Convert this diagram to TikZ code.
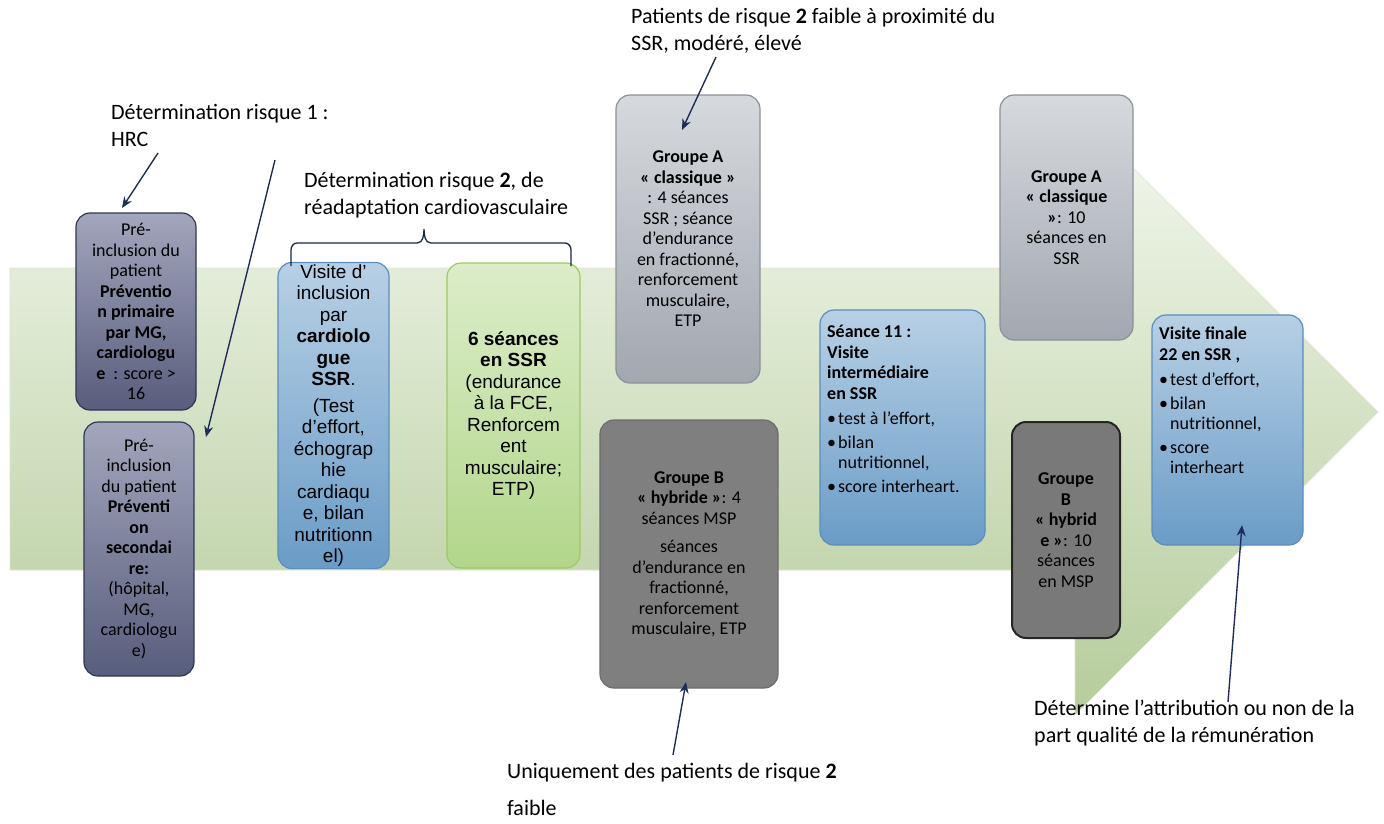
\documentclass[tikz,border=0pt]{standalone}
\usepackage{fontspec}
\setmainfont{Carlito}
\newfontfamily\arialfont{Liberation Sans}
\usetikzlibrary{arrows.meta,positioning}

\definecolor{navy}{HTML}{1F2D5C}
\definecolor{arrowtop}{HTML}{F4F8EF}
\definecolor{arrowbot}{HTML}{B5CC9B}
\definecolor{pretop}{HTML}{A3A6BC}
\definecolor{prebot}{HTML}{575D7C}
\definecolor{preline}{HTML}{2F3654}
\definecolor{bluetop}{HTML}{B7D0E5}
\definecolor{bluebot}{HTML}{6A9CC7}
\definecolor{blueline}{HTML}{5A8EBE}
\definecolor{greentop}{HTML}{DCEDC9}
\definecolor{greenbot}{HTML}{B2D68B}
\definecolor{greenline}{HTML}{9BCB63}
\definecolor{greytop}{HTML}{D6D9DD}
\definecolor{greybot}{HTML}{A2A7B0}
\definecolor{greyline}{HTML}{8C9199}
\definecolor{darkfill}{HTML}{7F7F7F}

\newcommand{\puce}{\makebox[11pt][l]{\textbullet}}

\begin{document}
\begin{tikzpicture}[x=1pt, y=-1pt,
    box/.style={rounded corners=14pt, line width=1.2pt, align=center, inner sep=2pt,
      font=\fontsize{18}{20.5}\selectfont, text=black},
    prebox/.style={box, draw=preline, top color=pretop, bottom color=prebot},
    bluebox/.style={box, draw=blueline, top color=bluetop, bottom color=bluebot},
    greenbox/.style={box, draw=greenline, top color=greentop, bottom color=greenbot},
    greybox/.style={box, draw=greyline, top color=greytop, bottom color=greybot},
    darkbox/.style={box, draw=darkfill!85!black, fill=darkfill},
    arial/.style={font=\arialfont\fontsize{19}{21.5}\selectfont},
    note/.style={align=left, inner sep=0pt, anchor=north west, font=\fontsize{22}{27}\selectfont},
    inner/.style={align=left, inner sep=0pt, anchor=north west, font=\fontsize{18}{20.5}\selectfont},
    link/.style={draw=navy, line width=1.4pt, -{Stealth[length=11pt,width=9pt]}},
    bracket/.style={draw=navy!80!black, line width=1.3pt}]
  \useasboundingbox (0,0) rectangle (1384,823);

  % big arrow behind everything
  \shade[top color=arrowtop, bottom color=arrowbot, draw=arrowtop!60!arrowbot, line width=0.6pt]
    (10,268) -- (1075,268) -- (1075,110) -- (1378,412) -- (1075,715) -- (1075,570) -- (10,570) -- cycle;

  % boxes
  \node[prebox, minimum width=120, minimum height=197] (pre1) at (136,311.5)
    {Pré-\\inclusion du\\patient\\\textbf{Préventio}\\\textbf{n primaire}\\\textbf{par MG,}\\\textbf{cardiologu}\\\textbf{e}~ : score >\\16};
  \node[prebox, minimum width=110, minimum height=254] (pre2) at (139,549)
    {Pré-\\inclusion\\du patient\\\textbf{Préventi}\\\textbf{on}\\\textbf{secondai}\\\textbf{re:}\\(hôpital,\\MG,\\cardiologu\\e)};
  \node[bluebox, arial, minimum width=111, minimum height=305] (visite) at (333.5,415.5)
    {Visite d’\\inclusion\\par\\\textbf{cardiolo}\\\textbf{gue}\\\textbf{SSR}.\\[5pt](Test\\d’effort,\\échograp\\hie\\cardiaqu\\e, bilan\\nutritionn\\el)};
  \node[greenbox, arial, minimum width=133, minimum height=305] (six) at (513.5,415.5)
    {\textbf{6 séances}\\\textbf{en SSR}\\(endurance\\à la FCE,\\Renforcem\\ent\\musculaire;\\ETP)};
  \node[greybox, minimum width=144, minimum height=288] (grpA1) at (688,239)
    {\textbf{Groupe A}\\\textbf{« classique »}\\: 4 séances\\SSR ; séance\\d’endurance\\en fractionné,\\renforcement\\musculaire,\\ETP};
  \node[darkbox, minimum width=178, minimum height=268] (grpB1) at (689,554)
    {\textbf{Groupe B}\\\textbf{« hybride »}: 4\\séances MSP\\[8pt]séances\\d’endurance en\\fractionné,\\renforcement\\musculaire, ETP};
  \node[bluebox, minimum width=165, minimum height=235] (s11) at (902.5,427.5) {};
  \node[inner] (s11txt) at (827,325)
    {\textbf{Séance 11 :}\\\textbf{Visite}\\\textbf{intermédiaire}\\\textbf{en SSR}\\[5pt]
     \puce test à l’effort,\\[3pt]\puce bilan\\\hspace*{11pt}nutritionnel,\\[3pt]\puce score interheart.};
  \node[greybox, minimum width=133, minimum height=245] (grpA2) at (1066.5,217.5)
    {\textbf{Groupe A}\\\textbf{« classique}\\\textbf{»}: 10\\séances en\\SSR};
  \node[box, draw=black!85, line width=2pt, fill=darkfill!95!black, minimum width=108, minimum height=216] (grpB2) at (1066,530)
    {\textbf{Groupe}\\\textbf{B}\\\textbf{« hybrid}\\\textbf{e »}: 10\\séances\\en MSP};
  \node[bluebox, minimum width=151, minimum height=230] (finale) at (1227.5,430) {};
  \node[inner] (finaletxt) at (1159,327)
    {\textbf{Visite finale}\\\textbf{22 en SSR ,}\\[5pt]
     \puce test d’effort,\\[3pt]\puce bilan\\\hspace*{11pt}nutritionnel,\\[3pt]\puce score\\\hspace*{11pt}interheart};

  % notes
  \node[note] (risk1) at (111,104) {Détermination risque 1 :\\HRC};
  \node[note] (risk2) at (304,172) {Détermination risque \textbf{2}, de\\réadaptation cardiovasculaire};
  \node[note] (proxi) at (631,8) {Patients de risque \textbf{2} faible à proximité du\\SSR, modéré, élevé};
  \node[note] (faible) at (507,763) {Uniquement des patients de risque \textbf{2}\\[10pt]faible};
  \node[note] (remun) at (1034,700) {Détermine l’attribution ou non de la\\part qualité de la rémunération};

  % arrow ends
  \coordinate (r1a) at (158,153);
  \coordinate (r1b) at (122,208);
  \coordinate (r2a) at (275,160);
  \coordinate (r2b) at (206,437);
  \coordinate (pxa) at (716,57);
  \coordinate (pxb) at (682,130);
  \coordinate (fba) at (673,755);
  \coordinate (fbb) at (686,682);
  \coordinate (rma) at (1228,702);
  \coordinate (rmb) at (1242,525);

  \draw[link] (r1a) -- (r1b);
  \draw[link] (r2a) -- (r2b);
  \draw[link] (pxa) -- (pxb);
  \draw[link] (fba) -- (fbb);
  \draw[link] (rma) -- (rmb);

  % brace over the two SSR boxes
  \draw[bracket] (291,266) -- (291,250) to[out=90,in=180] (297,243) -- (417,243)
    to[out=0,in=-90] (424,229) to[out=-90,in=180] (431,243) -- (565,243)
    to[out=0,in=90] (571,250) -- (571,266);
\end{tikzpicture}
\end{document}
